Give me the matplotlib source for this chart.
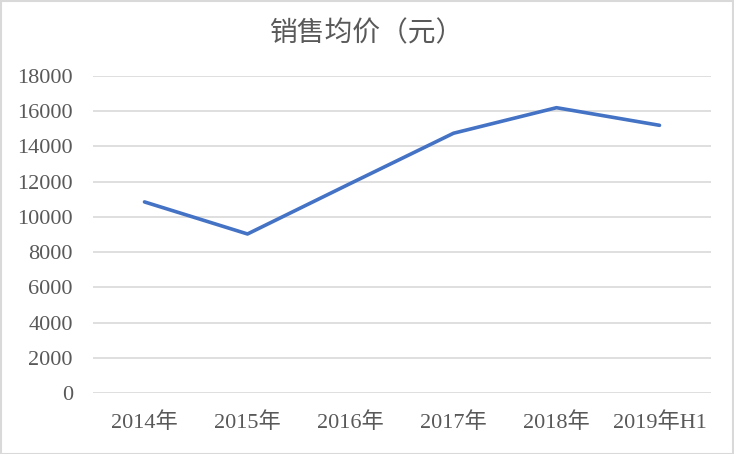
import matplotlib
matplotlib.use("Agg")
import matplotlib.pyplot as plt
from matplotlib.patches import Rectangle

# data
years = ["2014年", "2015年", "2016年", "2017年", "2018年", "2019年H1"]
price = [10850, 9030, 11900, 14750, 16200, 15200]
yticks = [0, 2000, 4000, 6000, 8000, 10000, 12000, 14000, 16000, 18000]

plt.rcParams['font.family'] = ['Liberation Serif', 'Noto Sans CJK SC', 'DejaVu Sans']
txt = '#595959'

fig = plt.figure(figsize=(7.34, 4.54), dpi=100)
ax = fig.add_axes([93 / 734, 1 - 393 / 454, 618 / 734, 317 / 454])

x = list(range(len(years)))
ax.plot(x, price, color='#4472C4', lw=2.6, solid_capstyle='round', zorder=3)

ax.set_xlim(-0.5, len(years) - 0.5)
ax.set_ylim(0, 18000)
ax.set_yticks(yticks)
ax.set_yticklabels([str(v) for v in yticks])
ax.set_xticks(x)
ax.set_xticklabels(years)
ax.grid(axis='y', color='#D9D9D9', lw=1.2)
ax.set_axisbelow(True)
for s in ax.spines.values():
    s.set_visible(False)
ax.tick_params(length=0, labelsize=16, colors=txt)
ax.tick_params(axis='y', pad=14.5)
ax.tick_params(axis='x', pad=14)

fig.text(0.5, 1 - 33 / 454, "销售均价（元）", ha='center', va='center',
         fontsize=20, color=txt, family=['Noto Sans CJK SC', 'DejaVu Sans'])

fig.patches.append(Rectangle((0.001, 0.001), 0.998, 0.997, transform=fig.transFigure,
                             fill=False, ec='#D9D9D9', lw=1.5))

fig.savefig("out.png", dpi=100)
